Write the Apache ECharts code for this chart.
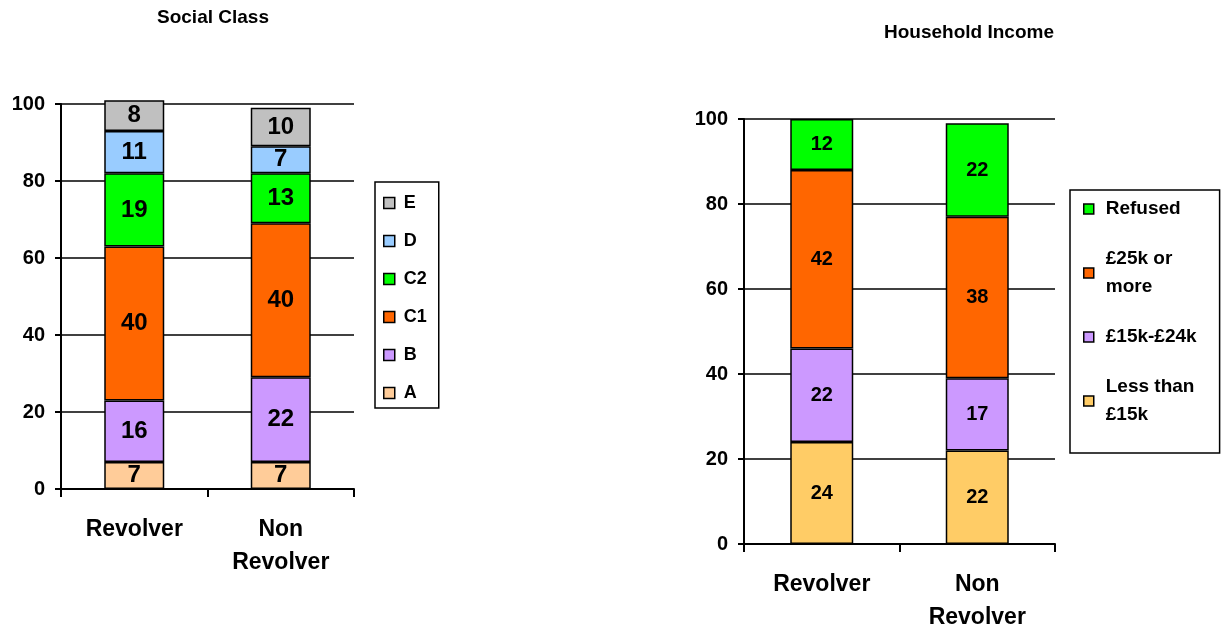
<!DOCTYPE html>
<html>
<head>
<meta charset="utf-8">
<title>Social Class / Household Income</title>
<script src="https://cdn.jsdelivr.net/npm/echarts@6/dist/echarts.min.js"></script>
<style>
    html, body {margin: 0; padding: 0; background: #ffffff;}
    #chart {width: 1221px; height: 630px;}
</style>
</head>
<body>
<div id="chart"></div>
<script>
// categories on both x axes
var categories = ['Revolver', 'Non Revolver'];

// Social Class (left chart), bottom to top
var classNames = ['A', 'B', 'C1', 'C2', 'D', 'E'];
var classA = [7, 7];
var classB = [16, 22];
var classC1 = [40, 40];
var classC2 = [19, 13];
var classD = [11, 7];
var classE = [8, 10];

// Household Income (right chart), bottom to top
var incomeNames = ['Less than £15k', '£15k-£24k', '£25k or more', 'Refused'];
var incomeLow = [24, 22];
var incomeMid = [22, 17];
var incomeHigh = [42, 38];
var incomeRefused = [12, 22];

var classColors = {A: '#FFCC99', B: '#CC99FF', C1: '#FF6600', C2: '#00FF00', D: '#99CCFF', E: '#C0C0C0'};
var incomeColors = {'Less than £15k': '#FFCC66', '£15k-£24k': '#CC99FF', '£25k or more': '#FF6600', 'Refused': '#00FF00'};

var font = '"Liberation Sans", Arial, sans-serif';

function makeSeries(name, data, color, idx, size, width) {
    return {
        name: name,
        type: 'bar',
        stack: 'total' + idx,
        xAxisIndex: idx,
        yAxisIndex: idx,
        barWidth: width,
        clip: false,
        data: data,
        itemStyle: {color: color, borderColor: '#000', borderWidth: 1.5},
        label: {
            show: true,
            position: 'inside',
            color: '#000',
            fontWeight: 'bold',
            fontSize: size,
            fontFamily: font
        },
        emphasis: {disabled: true}
    };
}

function xAxis(idx) {
    return {
        type: 'category',
        gridIndex: idx,
        data: categories,
        axisLine: {lineStyle: {color: '#000', width: 2}},
        axisTick: {show: true, length: 8, lineStyle: {color: '#000', width: 2}},
        axisLabel: {
            color: '#000',
            fontWeight: 'bold',
            fontSize: 23,
            lineHeight: 33,
            margin: 24,
            fontFamily: font,
            formatter: function (v) {
                return v.replace('Non ', 'Non\n');
            }
        }
    };
}

function yAxis(idx) {
    return {
        type: 'value',
        gridIndex: idx,
        min: 0,
        max: 100,
        interval: 20,
        axisLine: {show: true, lineStyle: {color: '#000', width: 2}},
        axisTick: {show: true, length: 6, lineStyle: {color: '#000', width: 2}},
        axisLabel: {color: '#000', fontWeight: 'bold', fontSize: 20, margin: 16, fontFamily: font},
        splitLine: {show: true, lineStyle: {color: '#000', width: 1.5}}
    };
}

var classSeries = [classA, classB, classC1, classC2, classD, classE].map(function (d, i) {
    return makeSeries(classNames[i], d, classColors[classNames[i]], 0, 24, 60);
});
var incomeSeries = [incomeLow, incomeMid, incomeHigh, incomeRefused].map(function (d, i) {
    return makeSeries(incomeNames[i], d, incomeColors[incomeNames[i]], 1, 20, 63);
});

var incomeLabels = {
    '£25k or more': '£25k or\nmore',
    'Less than £15k': 'Less than\n£15k'
};

var myChart = echarts.init(document.getElementById('chart'));

var option = {
    animation: false,
    textStyle: {fontFamily: font},
    title: [
        {
            text: 'Social Class',
            left: 213, top: 8, padding: 0,
            textAlign: 'center', textVerticalAlign: 'top',
            textStyle: {fontSize: 19, fontWeight: 'bold', color: '#000', fontFamily: font}
        },
        {
            text: 'Household Income',
            left: 969, top: 23, padding: 0,
            textAlign: 'center', textVerticalAlign: 'top',
            textStyle: {fontSize: 19, fontWeight: 'bold', color: '#000', fontFamily: font}
        }
    ],
    grid: [
        {left: 61, top: 104, width: 293, height: 385, outerBoundsMode: 'none'},
        {left: 744, top: 119, width: 311, height: 425, outerBoundsMode: 'none'}
    ],
    legend: [
        {
            data: ['E', 'D', 'C2', 'C1', 'B', 'A'],
            orient: 'vertical',
            left: 375, top: 182,
            padding: [11, 12, 5, 8],
            itemGap: 18,
            itemWidth: 11, itemHeight: 11,
            icon: 'rect',
            selectedMode: false,
            borderColor: '#000', borderWidth: 1.5,
            itemStyle: {borderColor: '#000', borderWidth: 1.5},
            textStyle: {fontSize: 18, fontWeight: 'bold', color: '#000', lineHeight: 20, padding: [0, 0, 0, 4], fontFamily: font}
        },
        {
            data: [
                {name: 'Refused'},
                {name: '£25k or more', textStyle: {padding: [28, 0, 0, 7]}},
                {name: '£15k-£24k'},
                {name: 'Less than £15k', textStyle: {padding: [28, 0, 0, 7]}}
            ],
            orient: 'vertical',
            left: 1070, top: 190,
            padding: [5, 23, 10, 13],
            itemGap: 8,
            itemWidth: 10, itemHeight: 10,
            icon: 'rect',
            selectedMode: false,
            borderColor: '#000', borderWidth: 1.5,
            itemStyle: {borderColor: '#000', borderWidth: 1.5},
            formatter: function (name) {
                return incomeLabels[name] || name;
            },
            textStyle: {fontSize: 19, fontWeight: 'bold', color: '#000', lineHeight: 28, padding: [0, 0, 0, 7], fontFamily: font}
        }
    ],
    xAxis: [xAxis(0), xAxis(1)],
    yAxis: [yAxis(0), yAxis(1)],
    series: classSeries.concat(incomeSeries)
};

if (option && typeof option === "object") {
    myChart.setOption(option, true);
}
</script>
</body>
</html>
